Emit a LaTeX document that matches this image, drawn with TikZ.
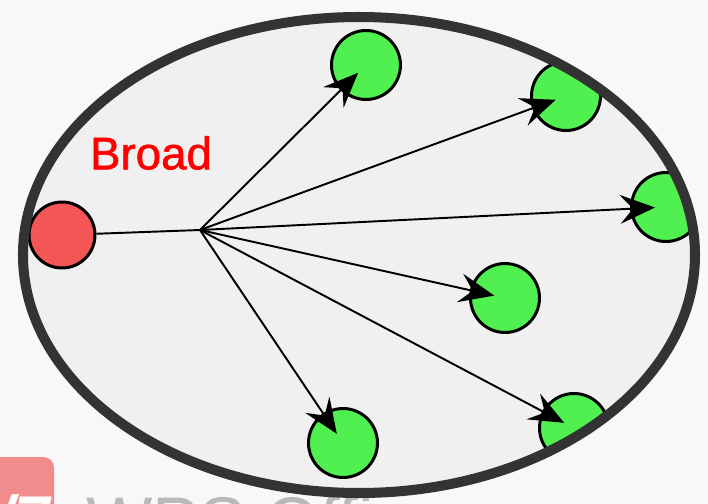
\documentclass[tikz,border=0pt]{standalone}
\usepackage{fontspec}
\setmainfont{Liberation Sans}
\newfontfamily\lblfont[BoldFont=Liberation Sans,BoldFeatures={FakeBold=1.3}]{Liberation Sans}
\usetikzlibrary{arrows.meta}
\definecolor{ringc}{HTML}{333333}
\definecolor{fillc}{HTML}{F0F0F0}
\definecolor{bgc}{HTML}{F8F8F8}
\definecolor{redc}{HTML}{F45555}
\definecolor{greenc}{HTML}{50F050}
\definecolor{labelred}{HTML}{FF0000}
\definecolor{pinkc}{HTML}{F28C8C}
\begin{document}
\begin{tikzpicture}[x=0.02cm,y=-0.02cm,
  gnode/.style={circle,draw=black,line width=1.7pt,fill=greenc,minimum size=1.38cm,inner sep=0pt},
  rnode/.style={circle,draw=black,line width=1.7pt,fill=redc,minimum size=1.32cm,inner sep=0pt},
  conn/.style={line width=1.1pt,draw=black},
  arr/.style={conn,-{Stealth[length=0.7cm,width=0.58cm,inset=0.26cm]},shorten >=0.22cm},
  wmtext/.style={text=gray!55,font=\fontsize{40}{40}\selectfont,inner sep=0pt}
]
\fill[bgc] (0,0) rectangle (708,504);
\useasboundingbox (0,0) rectangle (708,504);
\clip (0,0) rectangle (708,504);
% watermark (partly hidden)
\fill[pinkc,rounded corners=6pt] (-20,457) rectangle (54,530);
\node[anchor=north east,text=white,font=\bfseries\itshape\fontsize{36}{36}\selectfont,inner sep=0pt] (wmnum) at (50,494) {7/7};
\node[anchor=north west,wmtext] (wm) at (86,495) {WPS Office};
% main ellipse
\fill[fillc] (359,255) ellipse [x radius=336, y radius=238];
\begin{scope}
  \clip (359,255) ellipse [x radius=336, y radius=238];
  \node[rnode] (r) at (62,235) {};
  \coordinate (h) at (200,230);
  \node[gnode] (g1) at (366,65) {};
  \node[gnode] (g2) at (566,96) {};
  \node[gnode] (g3) at (666,207) {};
  \node[gnode] (g4) at (505,298) {};
  \node[gnode] (g5) at (574,428) {};
  \node[gnode] (g6) at (343,443) {};
  \draw[conn] (r) -- (h);
  \foreach \g in {g1,g2,g3,g4,g5,g6}
    \draw[arr] (h) -- (\g.center);
\end{scope}
\draw[ringc,line width=5.7pt] (359,255) ellipse [x radius=336, y radius=238];
\node[text=labelred,font=\lblfont\bfseries\fontsize{26}{26}\selectfont,inner sep=0pt] (lbl) at (151,153) {Broad};
\end{tikzpicture}
\end{document}
